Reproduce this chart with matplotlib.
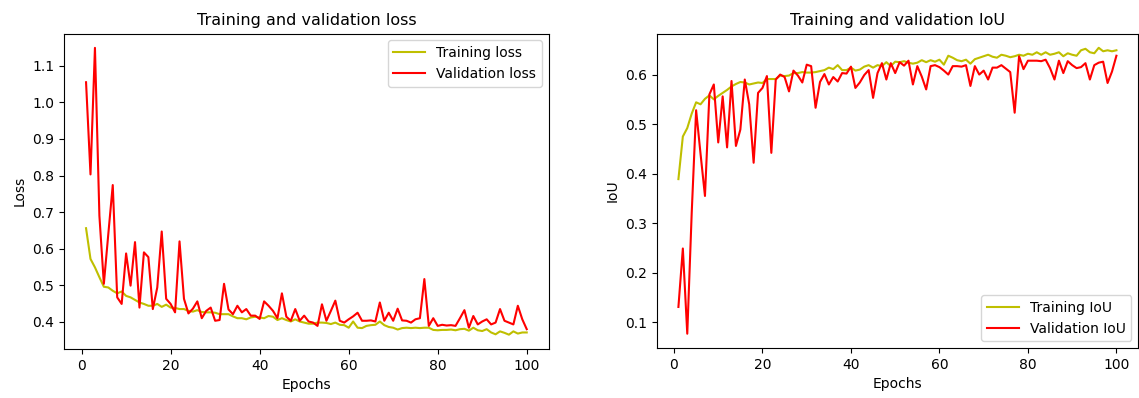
import matplotlib
matplotlib.use('Agg')
import matplotlib.pyplot as plt
import numpy as np

epochs = np.arange(1, 101)

# loss values
train_loss = [0.656, 0.572, 0.549, 0.522, 0.496, 0.494, 0.485, 0.478, 0.483, 0.471,
              0.467, 0.460, 0.453, 0.449, 0.444, 0.444, 0.449, 0.441, 0.447, 0.439,
              0.438, 0.435, 0.435, 0.430, 0.428, 0.432, 0.427, 0.426, 0.426, 0.425,
              0.421, 0.421, 0.421, 0.415, 0.410, 0.410, 0.407, 0.412, 0.414, 0.412,
              0.410, 0.416, 0.414, 0.405, 0.410, 0.405, 0.401, 0.407, 0.401, 0.398,
              0.395, 0.395, 0.398, 0.398, 0.397, 0.394, 0.398, 0.392, 0.391, 0.384,
              0.401, 0.384, 0.383, 0.389, 0.391, 0.392, 0.401, 0.391, 0.386, 0.384,
              0.379, 0.383, 0.384, 0.383, 0.384, 0.383, 0.384, 0.384, 0.378, 0.377,
              0.378, 0.378, 0.379, 0.377, 0.380, 0.381, 0.376, 0.384, 0.377, 0.375,
              0.380, 0.371, 0.366, 0.374, 0.370, 0.365, 0.374, 0.368, 0.371, 0.371]

val_loss = [1.055, 0.803, 1.149, 0.690, 0.504, 0.640, 0.774, 0.467, 0.449, 0.587,
            0.499, 0.618, 0.439, 0.590, 0.577, 0.435, 0.494, 0.647, 0.463, 0.449,
            0.426, 0.620, 0.463, 0.423, 0.436, 0.456, 0.410, 0.430, 0.439, 0.403,
            0.405, 0.504, 0.434, 0.421, 0.444, 0.426, 0.435, 0.417, 0.417, 0.408,
            0.456, 0.444, 0.430, 0.410, 0.478, 0.414, 0.403, 0.435, 0.403, 0.417,
            0.401, 0.398, 0.389, 0.448, 0.403, 0.430, 0.458, 0.403, 0.398, 0.407,
            0.415, 0.425, 0.403, 0.403, 0.404, 0.401, 0.453, 0.403, 0.425, 0.403,
            0.436, 0.404, 0.403, 0.398, 0.407, 0.410, 0.517, 0.389, 0.410, 0.389,
            0.392, 0.390, 0.391, 0.389, 0.410, 0.432, 0.384, 0.416, 0.393, 0.401,
            0.407, 0.393, 0.398, 0.435, 0.403, 0.398, 0.393, 0.444, 0.407, 0.380]

# IoU values
train_iou = [0.389, 0.475, 0.492, 0.521, 0.544, 0.540, 0.551, 0.558, 0.550, 0.557,
             0.563, 0.569, 0.576, 0.581, 0.585, 0.584, 0.580, 0.582, 0.584, 0.583,
             0.591, 0.591, 0.591, 0.598, 0.597, 0.598, 0.603, 0.603, 0.605, 0.604,
             0.604, 0.605, 0.607, 0.609, 0.614, 0.611, 0.619, 0.609, 0.609, 0.614,
             0.608, 0.610, 0.616, 0.619, 0.614, 0.619, 0.617, 0.625, 0.617, 0.626,
             0.625, 0.627, 0.624, 0.622, 0.624, 0.629, 0.625, 0.629, 0.626, 0.630,
             0.620, 0.638, 0.634, 0.629, 0.627, 0.630, 0.622, 0.631, 0.634, 0.637,
             0.640, 0.636, 0.634, 0.640, 0.638, 0.635, 0.637, 0.640, 0.638, 0.642,
             0.640, 0.645, 0.640, 0.645, 0.640, 0.642, 0.645, 0.637, 0.643, 0.640,
             0.638, 0.649, 0.652, 0.645, 0.643, 0.654, 0.647, 0.649, 0.647, 0.649]

val_iou = [0.131, 0.249, 0.077, 0.320, 0.528, 0.440, 0.355, 0.560, 0.580, 0.463,
           0.556, 0.453, 0.587, 0.456, 0.489, 0.590, 0.540, 0.422, 0.563, 0.573,
           0.597, 0.442, 0.590, 0.600, 0.595, 0.566, 0.608, 0.598, 0.584, 0.620,
           0.617, 0.533, 0.585, 0.601, 0.580, 0.595, 0.586, 0.603, 0.602, 0.616,
           0.573, 0.584, 0.599, 0.609, 0.553, 0.603, 0.623, 0.590, 0.623, 0.603,
           0.625, 0.618, 0.628, 0.580, 0.617, 0.596, 0.570, 0.617, 0.619, 0.615,
           0.608, 0.600, 0.617, 0.617, 0.616, 0.619, 0.577, 0.617, 0.600, 0.608,
           0.590, 0.614, 0.614, 0.619, 0.612, 0.605, 0.523, 0.637, 0.611, 0.628,
           0.628, 0.628, 0.627, 0.630, 0.613, 0.590, 0.628, 0.603, 0.627, 0.619,
           0.613, 0.615, 0.623, 0.590, 0.619, 0.624, 0.626, 0.583, 0.606, 0.638]

fig = plt.figure(figsize=(11.39, 3.98), dpi=100)
ax1 = fig.add_axes([0.0562, 0.1231, 0.4256, 0.7927])
ax2 = fig.add_axes([0.5764, 0.1256, 0.4230, 0.7902])

ax1.plot(epochs, train_loss, 'y', label='Training loss')
ax1.plot(epochs, val_loss, 'r', label='Validation loss')
ax1.set_title('Training and validation loss', fontsize=11.5)
ax1.set_xlabel('Epochs')
ax1.set_ylabel('Loss')
ax1.legend(handlelength=2.3)

ax2.plot(epochs, train_iou, 'y', label='Training IoU')
ax2.plot(epochs, val_iou, 'r', label='Validation IoU')
ax2.set_title('Training and validation IoU', fontsize=11.5)
ax2.set_xlabel('Epochs')
ax2.set_ylabel('IoU')
ax2.legend(loc='lower right', handlelength=2.3)

fig.savefig('out.png', dpi=100)
